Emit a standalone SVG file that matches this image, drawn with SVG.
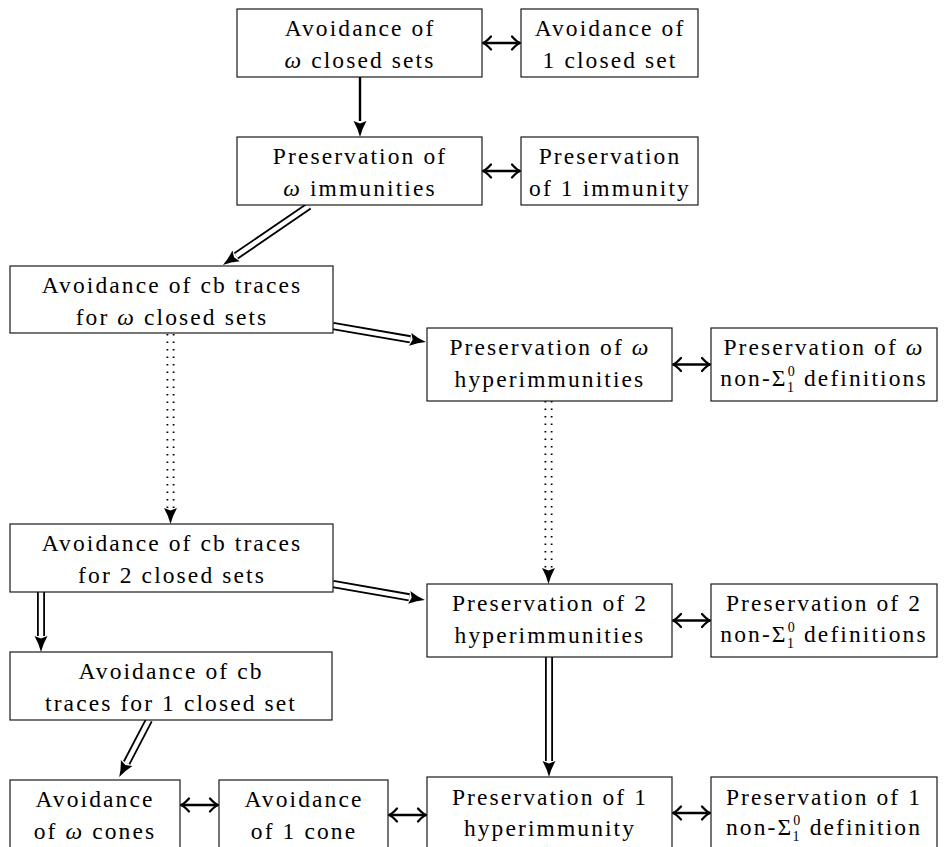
<svg xmlns="http://www.w3.org/2000/svg" width="947" height="847" viewBox="0 0 947 847">
<style>
.box{fill:#fff;stroke:#1a1a1a;stroke-width:1.2}
.t{font-family:'Liberation Serif','Times New Roman',serif;font-size:23.5px;letter-spacing:2.1px;text-anchor:middle;fill:#000}
.m{font-style:italic}
.s{font-size:14px}
.lr{fill:none;stroke:#000;stroke-width:2.4;marker-start:url(#chev);marker-end:url(#chev)}
.dbo{fill:none;stroke:#000;stroke-width:8;marker-end:url(#head)}
.dbi{fill:none;stroke:#fff;stroke-width:4.4}
.dto{fill:none;stroke:#000;stroke-width:8;stroke-dasharray:1.5 6}
.dti{fill:none;stroke:#fff;stroke-width:4.4;marker-end:url(#head)}
.sol{fill:none;stroke:#000;stroke-width:2.4;marker-end:url(#head)}
</style>
<defs>
<marker id="chev" markerUnits="userSpaceOnUse" markerWidth="24" markerHeight="24" viewBox="-12 -12 24 24" refX="0" refY="0" orient="auto-start-reverse">
<path d="M-8,-6.5 Q-3,-1 0,0 Q-3,1 -8,6.5" fill="none" stroke="#000" stroke-width="2.3" stroke-linecap="round"/>
</marker>
<marker id="head" markerUnits="userSpaceOnUse" markerWidth="40" markerHeight="40" viewBox="-20 -20 40 40" refX="0" refY="0" orient="auto">
<path d="M0,-6.5 Q8,-2 16,0 Q8,2 0,6.5 L2.5,0 z" fill="#000"/>
</marker>
</defs>

<g id="connectors">
<line class="lr" x1="483" y1="43" x2="520" y2="43"/>
<line class="lr" x1="483" y1="171" x2="520" y2="171"/>
<line class="lr" x1="673" y1="364.5" x2="710" y2="364.5"/>
<line class="lr" x1="673" y1="620.5" x2="710" y2="620.5"/>
<line class="lr" x1="181" y1="805" x2="218" y2="805"/>
<line class="lr" x1="389" y1="815" x2="426" y2="815"/>
<line class="lr" x1="673" y1="813" x2="710" y2="813"/>
<line class="sol" x1="360" y1="77" x2="360" y2="121"/>
<line class="dbo" x1="309" y1="206" x2="236.1" y2="255.9"/>
<line class="dbi" x1="309" y1="206" x2="236.1" y2="255.9"/>
<line class="dbo" x1="333" y1="326" x2="410.2" y2="339.3"/>
<line class="dbi" x1="333" y1="326" x2="410.2" y2="339.3"/>
<line class="dbo" x1="333" y1="584" x2="409.2" y2="597.3"/>
<line class="dbi" x1="333" y1="584" x2="409.2" y2="597.3"/>
<line class="dbo" x1="41" y1="592" x2="41" y2="636"/>
<line class="dbi" x1="41" y1="592" x2="41" y2="636"/>
<line class="dbo" x1="149" y1="720" x2="126.6" y2="762.9"/>
<line class="dbi" x1="149" y1="720" x2="126.6" y2="762.9"/>
<line class="dbo" x1="549" y1="657" x2="549" y2="761"/>
<line class="dbi" x1="549" y1="657" x2="549" y2="761"/>
<line class="dto" x1="170.5" y1="334" x2="170.5" y2="508"/>
<line class="dti" x1="170.5" y1="334" x2="170.5" y2="508"/>
<line class="dto" x1="548.5" y1="401" x2="548.5" y2="568"/>
<line class="dti" x1="548.5" y1="401" x2="548.5" y2="568"/>
</g>

<g id="A1"><rect class="box" x="237" y="9" width="245" height="68"/>
<text class="t" x="360" y="36">Avoidance of</text>
<text class="t" x="360" y="68"><tspan class="m">ω</tspan> closed sets</text></g>

<g id="A2"><rect class="box" x="521" y="9" width="177" height="68"/>
<text class="t" x="610" y="36">Avoidance of</text>
<text class="t" x="610" y="68">1 closed set</text></g>

<g id="B1"><rect class="box" x="237" y="137" width="245" height="68"/>
<text class="t" x="360" y="164">Preservation of</text>
<text class="t" x="360" y="196"><tspan class="m">ω</tspan> immunities</text></g>

<g id="B2"><rect class="box" x="521" y="137" width="177" height="68"/>
<text class="t" x="610" y="164">Preservation</text>
<text class="t" x="610" y="196">of 1 immunity</text></g>

<g id="C1"><rect class="box" x="10" y="266" width="323" height="67"/>
<text class="t" x="172" y="293">Avoidance of cb traces</text>
<text class="t" x="172" y="325">for <tspan class="m">ω</tspan> closed sets</text></g>

<g id="C2"><rect class="box" x="427" y="328" width="245" height="73"/>
<text class="t" x="550" y="355">Preservation of <tspan class="m">ω</tspan></text>
<text class="t" x="550" y="387">hyperimmunities</text></g>

<g id="C3"><rect class="box" x="711" y="328" width="226" height="73"/>
<text class="t" x="824" y="355">Preservation of <tspan class="m">ω</tspan></text>
<text class="t" x="824" y="386">non-Σ<tspan class="s" dy="-10">0</tspan><tspan class="s" dx="-9.8" dy="16">1</tspan><tspan dy="-6"> definitions</tspan></text></g>

<g id="D1"><rect class="box" x="10" y="524" width="323" height="68"/>
<text class="t" x="172" y="551">Avoidance of cb traces</text>
<text class="t" x="172" y="583">for 2 closed sets</text></g>

<g id="D2"><rect class="box" x="427" y="584" width="245" height="73"/>
<text class="t" x="550" y="611">Preservation of 2</text>
<text class="t" x="550" y="643">hyperimmunities</text></g>

<g id="D3"><rect class="box" x="711" y="584" width="226" height="73"/>
<text class="t" x="824" y="611">Preservation of 2</text>
<text class="t" x="824" y="642">non-Σ<tspan class="s" dy="-10">0</tspan><tspan class="s" dx="-9.8" dy="16">1</tspan><tspan dy="-6"> definitions</tspan></text></g>

<g id="E1"><rect class="box" x="10" y="652" width="322" height="68"/>
<text class="t" x="171" y="679">Avoidance of cb</text>
<text class="t" x="171" y="711">traces for 1 closed set</text></g>

<g id="F1"><rect class="box" x="10" y="780" width="170" height="80"/>
<text class="t" x="95" y="807">Avoidance</text>
<text class="t" x="95" y="839">of <tspan class="m">ω</tspan> cones</text></g>

<g id="F2"><rect class="box" x="219" y="780" width="169" height="80"/>
<text class="t" x="304" y="807">Avoidance</text>
<text class="t" x="304" y="839">of 1 cone</text></g>

<g id="F3"><rect class="box" x="427" y="777" width="245" height="80"/>
<text class="t" x="550" y="805">Preservation of 1</text>
<text class="t" x="550" y="836">hyperimmunity</text></g>

<g id="F4"><rect class="box" x="711" y="777" width="226" height="80"/>
<text class="t" x="824" y="805">Preservation of 1</text>
<text class="t" x="824" y="835">non-Σ<tspan class="s" dy="-10">0</tspan><tspan class="s" dx="-9.8" dy="16">1</tspan><tspan dy="-6"> definition</tspan></text></g>
</svg>
